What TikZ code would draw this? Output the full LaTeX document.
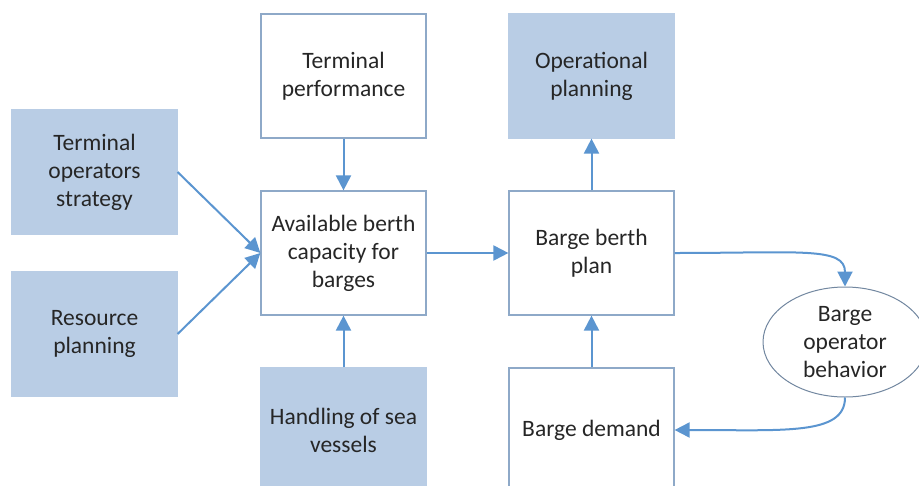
\documentclass[tikz,border=0pt]{standalone}
\usepackage{fontspec}
\setmainfont{Carlito}
\usetikzlibrary{arrows.meta,shapes.geometric}
\definecolor{boxfill}{HTML}{B9CDE5}
\definecolor{boxline}{HTML}{8EA9C8}
\definecolor{arrowc}{HTML}{5B95D0}
\definecolor{txt}{HTML}{262626}
\begin{document}
\begin{tikzpicture}[x=1pt,y=-1pt,
  every node/.style={font=\fontsize{23.5}{28}\selectfont, text=txt, align=center},
  plainbox/.style={draw=boxline, line width=1.2pt, fill=white, minimum width=165pt, minimum height=124pt, inner sep=0pt},
  filledbox/.style={draw=boxfill, line width=1.2pt, fill=boxfill, minimum width=165pt, minimum height=124pt, inner sep=0pt},
  oval/.style={ellipse, draw=boxline!80!black, line width=1pt, fill=white, minimum width=164pt, minimum height=110pt, inner sep=0pt},
  link/.style={draw=arrowc, line width=2pt, -{Triangle[length=15pt,width=15pt]}}
]
\useasboundingbox (0,0) rectangle (919,485);
% left inputs
\node[filledbox] (tos) at (94.5,172) {Terminal\\operators\\strategy};
\node[filledbox] (rp) at (94.5,334) {Resource\\planning};
% middle column
\node[plainbox] (tp) at (343.5,76) {Terminal\\performance};
\node[plainbox] (abc) at (343.5,253) {Available berth\\capacity for\\barges};
\node[filledbox] (hsv) at (343.5,430) {Handling of sea\\vessels};
% right column
\node[filledbox] (op) at (591.5,76) {Operational\\planning};
\node[plainbox] (bbp) at (591.5,253) {Barge berth\\plan};
\node[plainbox] (bd) at (591.5,430) {Barge demand};
\node[oval] (bob) at (845,342) {Barge\\operator\\behavior};
% connectors
\draw[link] (tp) -- (abc);
\draw[link] (hsv) -- (abc);
\draw[link] (tos.east) -- (abc.west);
\draw[link] (rp.east) -- (abc.west);
\draw[link] (abc) -- (bbp);
\draw[link] (bbp) -- (op);
\draw[link] (bd) -- (bbp);
\draw[link] (bbp.east) .. controls +(125,0) and +(0,-40) .. (bob.north);
\draw[link] (bob.south) .. controls +(0,38) and +(110,0) .. (bd.east);
\end{tikzpicture}
\end{document}
